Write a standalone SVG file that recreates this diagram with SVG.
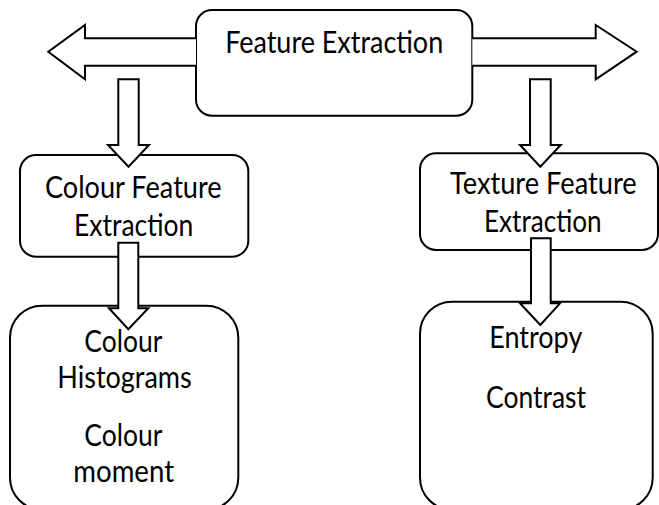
<svg xmlns="http://www.w3.org/2000/svg" width="659" height="505" viewBox="0 0 659 505">
  <style>
    .box { fill: #ffffff; stroke: #000000; stroke-width: 2; }
    .arrow { fill: #ffffff; stroke: #000000; stroke-width: 2; stroke-linejoin: miter; }
    .label { font-family: Lato, "Open Sans", "Liberation Sans", sans-serif; font-size: 30px; fill: #000000; text-anchor: middle; }
  </style>
  <rect width="659" height="505" fill="#ffffff"/>

  <!-- Nodes -->
  <g id="feature-extraction">
    <rect class="box" x="196" y="10" width="276.3" height="105.7" rx="16" ry="16"/>
    <text class="label" x="334.2" y="53.3" textLength="218" lengthAdjust="spacingAndGlyphs">Feature Extraction</text>
  </g>
  <g id="colour-feature-extraction">
    <rect class="box" x="20" y="155" width="228.3" height="101.7" rx="16" ry="16"/>
    <text class="label" x="133.3" y="198.3" textLength="176.7" lengthAdjust="spacingAndGlyphs">Colour Feature</text>
    <text class="label" x="133.7" y="235.7" textLength="119.3" lengthAdjust="spacingAndGlyphs">Extraction</text>
  </g>
  <g id="texture-feature-extraction">
    <rect class="box" x="420" y="153.3" width="238" height="96.7" rx="16" ry="16"/>
    <text class="label" x="543.3" y="194.3" textLength="186.7" lengthAdjust="spacingAndGlyphs">Texture Feature</text>
    <text class="label" x="542.8" y="232.3" textLength="117.7" lengthAdjust="spacingAndGlyphs">Extraction</text>
  </g>
  <g id="colour-features">
    <rect class="box" x="10" y="305.7" width="228.3" height="204" rx="32" ry="32"/>
    <text class="label" x="123.3" y="352.3" textLength="78" lengthAdjust="spacingAndGlyphs">Colour</text>
    <text class="label" x="124.5" y="388.3" textLength="134.4" lengthAdjust="spacingAndGlyphs">Histograms</text>
    <text class="label" x="123.3" y="446" textLength="78" lengthAdjust="spacingAndGlyphs">Colour</text>
    <text class="label" x="123.7" y="482.3" textLength="100.7" lengthAdjust="spacingAndGlyphs">moment</text>
  </g>
  <g id="texture-features">
    <rect class="box" x="420" y="301.7" width="232.7" height="208" rx="32" ry="32"/>
    <text class="label" x="535.8" y="348.3" textLength="93" lengthAdjust="spacingAndGlyphs">Entropy</text>
    <text class="label" x="536" y="408.3" textLength="100" lengthAdjust="spacingAndGlyphs">Contrast</text>
  </g>

  <!-- Connectors: block arrows -->
  <g id="connectors">
    <path class="arrow" d="M196,38.3 H85 V25 L48.3,51.7 L85,79.3 V65.7 H196"/>
    <path class="arrow" d="M472.3,38.3 H595.7 V25 L636.7,51.7 L595.7,79.3 V65.7 H472.3"/>
    <polygon class="arrow" points="118.3,79.3 138.7,79.3 138.7,145 149,145 128.5,166.7 108,145 118.3,145"/>
    <polygon class="arrow" points="530,79.3 550.7,79.3 550.7,145 560.7,145 540.3,166.7 520,145 530,145"/>
    <polygon class="arrow" points="118.3,242.7 138.3,242.7 138.3,308.3 148.3,308.3 128.3,329.3 109,308.3 118.3,308.3"/>
    <polygon class="arrow" points="531,238.3 550.7,238.3 550.7,303.3 560,303.3 540.3,325 520,303.3 531,303.3"/>
  </g>
</svg>
